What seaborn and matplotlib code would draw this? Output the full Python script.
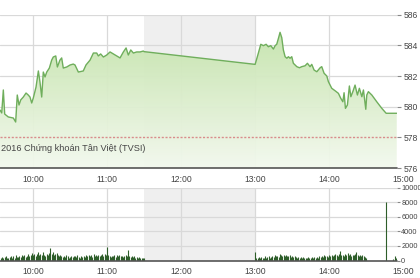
import numpy as np
import pandas as pd
import matplotlib
matplotlib.use("Agg")
import matplotlib.pyplot as plt
import seaborn as sns
from matplotlib.colors import LinearSegmentedColormap
from matplotlib.patches import PathPatch

# ---------------- data ----------------
# price: time in minutes after 09:00, index value
price_t = [33.2, 34.6, 35.9, 37.0, 39.9, 44.0, 45.9, 47.2, 48.6, 50.0, 52.1, 54.3, 56.1, 57.5,
           58.9, 60.2, 62.4, 64.3, 65.6, 67.0, 68.3, 69.7, 71.1, 73.2, 75.1, 76.4, 78.4, 79.7,
           81.8, 83.2, 84.5, 87.3, 90.0, 92.6, 94.0, 96.7, 100.7, 102.9, 106.2, 108.9, 111.6,
           112.9, 114.8, 117.0, 119.7, 122.4, 125.1, 127.8, 130.5, 133.2, 135.4, 137.2, 139.2,
           141.3, 144.0, 146.7, 149.4, 150.0,
           240.0, 241.8, 244.6, 246.7, 248.9, 250.7, 252.7, 254.8, 256.2, 257.5, 258.9, 260.2,
           261.6, 262.9, 264.3, 265.7, 267.0, 268.3, 269.7, 271.0, 273.8, 275.9, 277.8, 280.5,
           282.4, 284.5, 285.9, 287.8, 290.0, 292.7, 294.0, 295.9, 298.1, 299.4, 302.1, 304.8,
           307.5, 309.4, 311.1, 312.1, 313.2, 314.8, 316.4, 317.6, 319.2, 321.0, 322.9, 324.5,
           326.5, 327.8, 329.7, 330.5, 331.8, 334.6, 338.6, 342.7, 346.2, 354.8]
price_v = [579.78, 579.59, 581.09, 579.52, 579.33, 579.26, 579.00, 580.76, 580.11, 580.44, 580.63,
           580.89, 580.76, 580.63, 580.24, 580.57, 581.28, 582.33, 581.61, 580.63, 582.26, 581.94,
           582.26, 582.52, 583.04, 583.24, 583.31, 582.59, 583.04, 583.18, 582.52, 582.59, 582.72,
           582.78, 582.72, 582.26, 582.33, 582.72, 583.04, 583.50, 583.50, 583.31, 583.44, 583.24,
           583.37, 583.57, 583.44, 583.31, 583.18, 583.57, 583.83, 583.37, 583.70, 583.50, 583.57,
           583.57, 583.63, 583.59,
           582.76, 583.26, 584.07, 583.98, 584.07, 583.91, 583.98, 583.76, 583.98, 584.07, 584.46,
           584.85, 584.50, 583.70, 583.26, 583.16, 583.26, 583.16, 583.26, 582.83, 582.61, 582.54,
           582.61, 582.67, 582.83, 582.61, 582.76, 582.39, 582.28, 582.54, 582.61, 582.18, 582.00,
           581.63, 581.20, 581.04, 580.87, 580.55, 580.32, 580.91, 579.89, 580.11, 581.35, 580.65,
           580.98, 581.41, 580.76, 581.20, 580.65, 581.09, 579.83, 580.76, 580.98, 580.76, 580.32,
           579.89, 579.57, 579.57]
ref_price = 578.05

# volume per minute
vol_am_start = 34
vol_am = [350, 500, 300, 450, 600, 400, 300, 500, 650, 400,
          550, 400, 700, 500, 450, 650, 500, 800, 600, 700,
          500, 650, 900, 600, 750, 1000, 700, 850, 650, 900,
          1200, 800, 950, 700, 1100, 800, 650, 900, 750, 1000,
          1700, 900, 1100, 700, 850, 1000, 750, 600, 800, 650,
          500, 600, 450, 700, 550, 400, 500, 650, 450, 550,
          600, 450, 700, 500, 400, 550, 450, 600, 500, 700,
          550, 800, 600, 700, 500, 900, 650, 750, 550, 800,
          600, 700, 850, 650, 900, 750, 1800, 700, 600, 500,
          650, 550, 700, 500, 800, 600, 750, 550, 650, 500,
          600, 700, 550, 1500, 650, 500, 600, 450, 550, 400,
          500, 400, 450, 350, 400, 300, 350]
vol_pm_start = 240
vol_pm = [1200, 400, 300, 450, 350, 500, 300, 400, 550, 350,
          450, 600, 400, 500, 650, 450, 700, 550, 600, 500,
          900, 750, 600, 800, 650, 700, 550, 600, 750, 500,
          600, 450, 550, 500, 400, 450, 350, 500, 400, 450,
          350, 400, 300, 450, 350, 400, 500, 350, 450, 400,
          500, 400, 550, 450, 600, 500, 700, 550, 650, 500,
          750, 600, 800, 650, 700, 900, 750, 600, 850, 1300,
          700, 800, 650, 900, 750, 1000, 700, 850, 650, 800,
          700, 900, 1200, 750, 650, 800, 600, 700, 550, 500,
          400]
vol_late_t = [346, 352, 353, 354]
vol_late = [8000, 250, 600, 300]

hour_ticks = [60, 120, 180, 240, 300]
hour_labels = ["10:00", "11:00", "12:00", "13:00", "14:00"]
last_tick, last_label = 360, "15:00"
price_ticks = [576, 578, 580, 582, 584, 586]
vol_ticks = [0, 2000, 4000, 6000, 8000, 10000]
credit = "2016 Chứng khoán Tân Việt (TVSI)"

# ---------------- style ----------------
sns.set_theme(style="white")
plt.rcParams["font.family"] = ["Liberation Sans", "DejaVu Sans"]
TXT = "#444444"
GRID = "#d9d9d9"
SHADE = "#efefef"

W, H = 420, 278
fig = plt.figure(figsize=(W / 100, H / 100), dpi=100)
xmin, xmax = 33.2, 355.0

def fr(l, t, r, b):
    return [l / W, 1 - b / H, (r - l) / W, (b - t) / H]

ax = fig.add_axes(fr(0, 14.7, 397, 168))
axv = fig.add_axes(fr(0, 187.5, 397, 260.5))

df = pd.DataFrame({"t": price_t, "v": price_v})

for a in (ax, axv):
    a.set_facecolor("white")
    a.axvspan(150, 240, color=SHADE, zorder=0, lw=0)
    for s in a.spines.values():
        s.set_visible(False)
    a.set_xlim(xmin, xmax)
    a.set_xticks(hour_ticks)
    a.set_xticklabels(hour_labels)
    a.yaxis.tick_right()
    a.tick_params(axis="x", length=0, pad=5, labelsize=6.2, colors=TXT)
    a.tick_params(axis="y", length=3, width=0.8, pad=1.5, labelsize=6.2, colors=TXT,
                  color="#888888", right=True, left=False)
    for x in hour_ticks:
        a.axvline(x, color=GRID, lw=0.9, zorder=1)

# ---- price panel ----
ax.set_ylim(576, 586)
ax.set_yticks(price_ticks)
for y in price_ticks[1:]:
    ax.axhline(y, color=GRID, lw=0.9, zorder=1)

poly = ax.fill_between(df["t"], df["v"], 576, color="none", lw=0)
path = poly.get_paths()[0]
cmap = LinearSegmentedColormap.from_list("g", ["#f3f9ee", "#c2e2a8"])
grad = np.linspace(0, 1, 256).reshape(-1, 1)
im = ax.imshow(grad, extent=[xmin, xmax, 576, 585.5], origin="lower", aspect="auto",
               cmap=cmap, zorder=2, alpha=0.95)
patch = PathPatch(path, transform=ax.transData, facecolor="none", edgecolor="none")
ax.add_patch(patch)
im.set_clip_path(patch)
ax.set_ylim(576, 586)
ax.set_xlim(xmin, xmax)

sns.lineplot(data=df, x="t", y="v", ax=ax, color="#6fae5c", lw=1.0, zorder=4, sort=False)
ax.set_xlabel("")
ax.set_ylabel("")
ax.axhline(ref_price, color="#d98c8c", lw=1.0, ls=(0, (1.5, 1.2)), zorder=5)
ax.axhline(576, color="#555555", lw=1.2, zorder=6, clip_on=False)
ax.text(0.002, 0.13, credit, transform=ax.transAxes, fontsize=6.6, color=TXT,
        ha="left", va="center", zorder=7)
ax.annotate(last_label, xy=(last_tick, 576), xytext=(0, -5), textcoords="offset points",
            ha="center", va="top", fontsize=6.2, color=TXT, annotation_clip=False)

# ---- volume panel ----
axv.set_ylim(0, 10000)
axv.set_yticks(vol_ticks)
axv.tick_params(axis="y", length=2, pad=1, labelsize=5.3)
for y in vol_ticks[1:]:
    axv.axhline(y, color=GRID, lw=0.9, zorder=1)
t_am = np.arange(vol_am_start, vol_am_start + len(vol_am))
t_pm = np.arange(vol_pm_start, vol_pm_start + len(vol_pm))
vt = np.concatenate([t_am, t_pm, vol_late_t])
vv = np.concatenate([vol_am, vol_pm, vol_late])
axv.vlines(vt, 0, vv, color="#2e5e2a", lw=0.8, zorder=3)
axv.axhline(0, color="#555555", lw=1.2, zorder=6, clip_on=False)
axv.annotate(last_label, xy=(last_tick, 0), xytext=(0, -5), textcoords="offset points",
             ha="center", va="top", fontsize=6.2, color=TXT, annotation_clip=False)

fig.savefig("out.png", dpi=100)
